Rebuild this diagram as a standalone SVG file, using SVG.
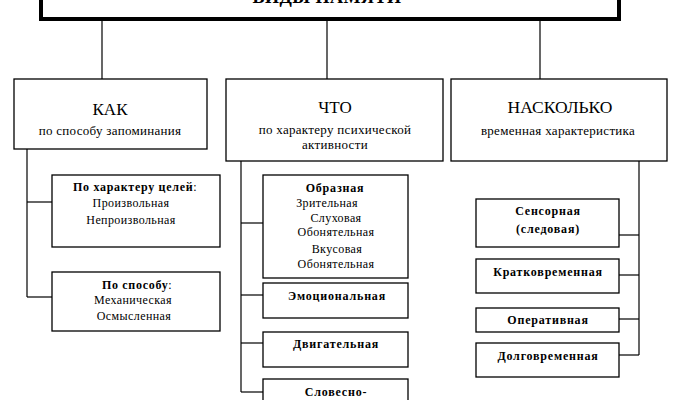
<svg xmlns="http://www.w3.org/2000/svg" width="677" height="400" viewBox="0 0 677 400">
<style>
text{font-family:"Liberation Serif","Times New Roman",serif;fill:#000;text-anchor:middle}
.box{fill:#fff;stroke:#000;stroke-width:1.3}
.h{font-size:17px}
.sub{font-size:13px;letter-spacing:0.3px}
.s{font-size:12px;letter-spacing:0.4px}
.b{font-size:12px;font-weight:bold;letter-spacing:0.8px}
.t{font-size:18px;font-weight:bold;letter-spacing:0.5px}
#connectors line{stroke:#000;stroke-width:1.2}
</style>
<rect width="677" height="400" fill="#fff"/>
<g id="connectors">
<line x1="102" y1="21" x2="102" y2="79"/>
<line x1="327" y1="21" x2="327" y2="79"/>
<line x1="540" y1="21" x2="540" y2="79"/>
<line x1="27" y1="149" x2="27" y2="297"/>
<line x1="27" y1="202" x2="52" y2="202"/>
<line x1="27" y1="297" x2="52" y2="297"/>
<line x1="241" y1="161" x2="241" y2="392"/>
<line x1="241" y1="223" x2="263" y2="223"/>
<line x1="241" y1="295" x2="263" y2="295"/>
<line x1="241" y1="343" x2="263" y2="343"/>
<line x1="241" y1="392" x2="263" y2="392"/>
<line x1="639" y1="161" x2="639" y2="355"/>
<line x1="619" y1="235" x2="639" y2="235"/>
<line x1="619" y1="275" x2="639" y2="275"/>
<line x1="619" y1="319" x2="639" y2="319"/>
<line x1="619" y1="355" x2="639" y2="355"/>
</g>
<g id="root">
<rect x="41" y="-20" width="578" height="39" fill="#fff" stroke="#000" stroke-width="4"/>
<text class="t" x="327" y="3">ВИДЫ ПАМЯТИ</text>
</g>
<g id="kak">
<rect class="box" x="14" y="79" width="193" height="70"/>
<text class="h" x="110" y="115">КАК</text>
<text class="sub" x="110" y="135">по способу запоминания</text>
</g>
<g id="chto">
<rect class="box" x="226" y="79" width="217" height="82"/>
<text class="h" x="335" y="113">ЧТО</text>
<text class="sub" x="335" y="134">по характеру психической</text>
<text class="sub" x="335" y="149">активности</text>
</g>
<g id="naskolko">
<rect class="box" x="451" y="79" width="216" height="82"/>
<text class="h" x="560" y="113" style="font-size:17.5px">НАСКОЛЬКО</text>
<text class="sub" x="558" y="135">временная характеристика</text>
</g>
<g id="po-kharakteru">
<rect class="box" x="52" y="175" width="168" height="72"/>
<text class="s" x="135" y="191"><tspan font-weight="bold" letter-spacing="0.7">По характеру целей</tspan>:</text>
<text class="s" x="131" y="207">Произвольная</text>
<text class="s" x="131" y="224">Непроизвольная</text>
</g>
<g id="po-sposobu">
<rect class="box" x="52" y="272" width="168" height="59"/>
<text class="s" x="137" y="289"><tspan font-weight="bold" letter-spacing="0.7">По способу</tspan>:</text>
<text class="s" x="133" y="304">Механическая</text>
<text class="s" x="134" y="320">Осмысленная</text>
</g>
<g id="obraznaya">
<rect class="box" x="263" y="175" width="145" height="103"/>
<text class="b" x="335" y="192">Образная</text>
<text class="s" x="327" y="207">Зрительная</text>
<text class="s" x="336" y="222">Слуховая</text>
<text class="s" x="336" y="236">Обонятельная</text>
<text class="s" x="337" y="253">Вкусовая</text>
<text class="s" x="336" y="268">Обонятельная</text>
</g>
<g id="emotsionalnaya">
<rect class="box" x="263" y="283" width="145" height="35"/>
<text class="b" x="337" y="300">Эмоциональная</text>
</g>
<g id="dvigatelnaya">
<rect class="box" x="263" y="332" width="145" height="35"/>
<text class="b" x="336" y="348">Двигательная</text>
</g>
<g id="slovesno">
<rect class="box" x="263" y="379" width="145" height="40"/>
<text class="b" x="336" y="396">Словесно-</text>
</g>
<g id="sensornaya">
<rect class="box" x="476" y="199" width="143" height="48"/>
<text class="b" x="548" y="215">Сенсорная</text>
<text class="b" x="548" y="233">(следовая)</text>
</g>
<g id="kratkovremennaya">
<rect class="box" x="476" y="259" width="143" height="34"/>
<text class="b" x="548" y="276">Кратковременная</text>
</g>
<g id="operativnaya">
<rect class="box" x="476" y="308" width="143" height="24"/>
<text class="b" x="548" y="324">Оперативная</text>
</g>
<g id="dolgovremennaya">
<rect class="box" x="476" y="343" width="143" height="34"/>
<text class="b" x="548" y="360">Долговременная</text>
</g>
</svg>
